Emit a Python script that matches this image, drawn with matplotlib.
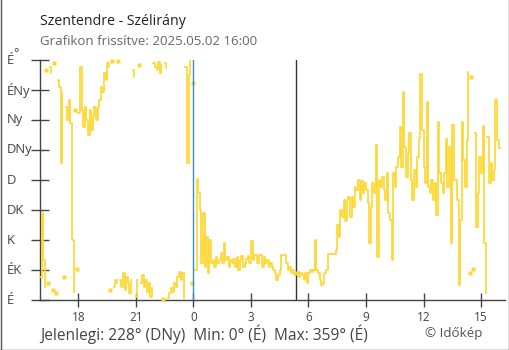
import numpy as np
import matplotlib
matplotlib.use('Agg')
import matplotlib.pyplot as plt
from matplotlib.lines import Line2D

# Wind direction (degrees), 5-minute readings, one list per hour (16:00 day 1 -> 16:00 day 2)
wind_16 = [35, 130, 60, 20, 345, 25, 350, 340, 15, 355, 10, 330]
wind_17 = [320, 205, 310, 35, 290, 270, 300, 265, 90, 12, 285, 46]
wind_18 = [280, 350, 285, 260, 290, 270, 248, 285, 255, 275, 290, 270]
wind_19 = [290, 300, 320, 312, 340, 330, 355, 350, 15, 358, 20, 30]
wind_20 = [25, 358, 30, 20, 40, 15, 35, 25, 10, 30, 345, 335]
wind_21 = [5, 30, 352, 25, 38, 20, 30, 12, 25, 5, 18, 355]
wind_22 = [350, 345, 357, 340, 352, 2, 355, 348, 3, 10, 18, 12]
wind_23 = [25, 20, 35, 42, 30, 40, 2, 350, 205, 338, 359, 25]
wind_00 = [326, 45, 181, 160, 135, 55, 130, 50, 95, 40, 90, 55]
wind_01 = [60, 50, 65, 55, 60, 70, 55, 85, 60, 65, 50, 60]
wind_02 = [55, 62, 50, 65, 45, 60, 66, 50, 55, 62, 66, 55]
wind_03 = [88, 60, 68, 68, 55, 68, 68, 50, 65, 55, 60, 50]
wind_04 = [55, 50, 45, 40, 30, 38, 45, 68, 68, 68, 55, 45]
wind_05 = [50, 40, 45, 38, 40, 42, 35, 40, 38, 30, 40, 25]
wind_06 = [40, 45, 42, 45, 90, 45, 40, 30, 22, 25, 40, 45]
wind_07 = [69, 69, 69, 69, 69, 75, 112, 95, 135, 125, 150, 118]
wind_08 = [150, 155, 125, 155, 140, 170, 165, 180, 150, 178, 160, 175]
wind_09 = [165, 145, 85, 140, 175, 160, 232, 65, 180, 170, 185, 165]
wind_10 = [150, 190, 130, 120, 60, 190, 170, 200, 215, 260, 200, 312]
wind_11 = [230, 185, 220, 250, 180, 150, 195, 170, 215, 242, 339, 255]
wind_12 = [200, 175, 297, 170, 160, 180, 150, 175, 127, 267, 190, 175]
wind_13 = [160, 190, 242, 170, 230, 85, 262, 180, 180, 150, 22, 120]
wind_14 = [267, 210, 170, 240, 342, 41, 335, 46, 250, 110, 160, 215]
wind_15 = [190, 261, 85, 10, 245, 175, 205, 180, 195, 300, 240, 228]
wind_end = [228]

start_hour = 16.0
step_minutes = 5
midnight = 24.0
sunrise = 29.37

dir_ticks = [0, 45, 90, 135, 180, 225, 270, 315, 360]
dir_labels = ['É', 'ÉK', 'K', 'DK', 'D', 'DNy', 'Ny', 'ÉNy', 'É']
hour_ticks = [18, 21, 24, 27, 30, 33, 36, 39]
hour_labels = ['18', '21', '0', '3', '6', '9', '12', '15']

title = 'Szentendre - Szélirány'
subtitle = 'Grafikon frissítve: 2025.05.02 16:00'
footer = 'Jelenlegi: 228° (DNy)  Min: 0° (É)  Max: 359° (É)'
credit = '© Időkép'

plt.rcParams['font.family'] = ['Open Sans', 'DejaVu Sans']

W, H = 510, 350
fig = plt.figure(figsize=(W / 100, H / 100), dpi=100)
fig.patch.set_facecolor('white')

ax = fig.add_axes([40 / W, 50 / H, 465 / W, 240 / H])
ax.set_xlim(16, 40.25)
ax.set_ylim(0, 360)

LINE = '#fdd835'
AXC = '#444444'

vals = np.array(wind_16 + wind_17 + wind_18 + wind_19 + wind_20 + wind_21 + wind_22 +
                wind_23 + wind_00 + wind_01 + wind_02 + wind_03 + wind_04 + wind_05 +
                wind_06 + wind_07 + wind_08 + wind_09 + wind_10 + wind_11 + wind_12 +
                wind_13 + wind_14 + wind_15 + wind_end, dtype=float)
t = start_hour + np.arange(len(vals)) * step_minutes / 60.0

brk = np.where(np.abs(np.diff(vals)) > 180)[0] + 1
starts = np.r_[0, brk]
ends = np.r_[brk, len(vals)]
for s, e in zip(starts, ends):
    if e - s == 1:
        ax.plot([t[s]], [vals[s]], marker='s', ms=3.0, color=LINE, mec='none',
                linestyle='none', clip_on=False, zorder=3)
    else:
        ax.step(t[s:e], vals[s:e], where='post', color=LINE, lw=1.25,
                clip_on=False, zorder=3)

ax.axvline(midnight, color='#3a8dd0', lw=1.0, zorder=4)
ax.axvline(sunrise, color='#333333', lw=1.0, zorder=2)

for side in ['top', 'right']:
    ax.spines[side].set_visible(False)
for side in ['left', 'bottom']:
    ax.spines[side].set_color(AXC)
    ax.spines[side].set_linewidth(1.0)

ax.set_xticks(hour_ticks)
ax.set_xticklabels(hour_labels, fontsize=8.5, color=AXC)
ax.tick_params(axis='x', direction='inout', length=10, width=1, color=AXC, pad=3)
ax.set_yticks(dir_ticks)
ax.set_yticklabels([])
ax.tick_params(axis='y', direction='inout', length=13, width=1, color=AXC)

for d, lab in zip(dir_ticks, dir_labels):
    ax.text(-33 / 465, d, lab, transform=ax.get_yaxis_transform(), ha='left',
            va='center', fontsize=9.4, color=AXC, clip_on=False)

def fx(x):
    return x / W

def fy(y):
    return 1 - y / H

fig.text(fx(13), fy(57), '°', fontsize=9, color=AXC, ha='left', va='baseline')
fig.text(fx(40), fy(25), title, fontsize=10.2, color='#222222', ha='left', va='baseline')
fig.text(fx(40), fy(45), subtitle, fontsize=9.5, color='#666666', ha='left', va='baseline')
fig.text(fx(40), fy(340), footer, fontsize=11.2, color=AXC, ha='left', va='baseline')
fig.text(fx(482), fy(337), credit, fontsize=9.6, color='#555555', ha='right', va='baseline')

# image frame (left, right, bottom)
bc = '#555555'
fig.add_artist(Line2D([0.5 / W, 0.5 / W], [0, 1], color=bc, lw=1.0, transform=fig.transFigure))
fig.add_artist(Line2D([1 - 1 / W, 1 - 1 / W], [0, 1], color=bc, lw=1.0, transform=fig.transFigure))
fig.add_artist(Line2D([0, 1], [0.5 / H, 0.5 / H], color=bc, lw=1.0, transform=fig.transFigure))

fig.savefig('out.png', dpi=100)
